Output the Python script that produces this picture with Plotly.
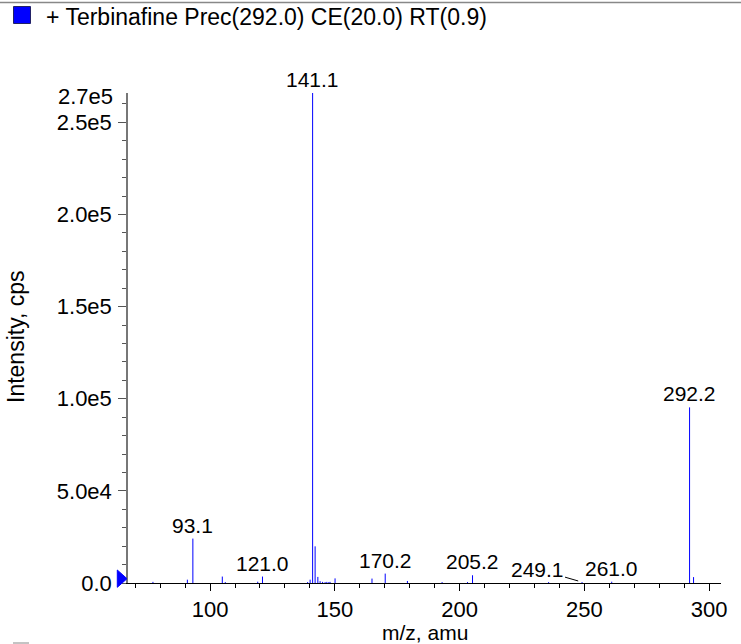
import plotly.graph_objects as go

# ---- data ----
mz = [77.1, 90.9, 93.1, 104.9, 106.1, 119.1, 121.0, 139.1, 140.1, 141.1, 142.1,
      143.2, 144.1, 145.1, 146.1, 146.8, 147.6, 148.1, 150.1, 164.9, 170.2,
      179.1, 193.0, 203.2, 205.2, 235.7, 249.1, 261.0, 292.2, 293.8]
intensity = [600, 1800, 24100, 3500, 500, 700, 3500, 500, 1800, 265900, 19900,
             3300, 1000, 600, 500, 600, 500, 600, 2500, 2400, 5100,
             1100, 500, 500, 4200, 500, 500, 700, 95300, 3200]
label_mz = [93.1, 121.0, 141.1, 170.2, 205.2, 249.1, 261.0, 292.2]
ytick_vals = [0, 50000, 100000, 150000, 200000, 250000]
ytick_text = ["0.0", "5.0e4", "1.0e5", "1.5e5", "2.0e5", "2.5e5"]
xtick_vals = [100, 150, 200, 250, 300]
title_text = "+ Terbinafine Prec(292.0) CE(20.0) RT(0.9)"
max_label = "2.7e5"

W, H = 741, 644
L, R, T, B = 128, 721, 93, 583
FONT = "Liberation Sans, Arial, Helvetica, sans-serif"
FS = 21


def pxx(x):
    return (x - L) / (R - L)


def pyy(y):
    return (B - y) / (B - T)


xs, ys = [], []
for m, v in zip(mz, intensity):
    xs += [m, m, None]
    ys += [0, v, None]

fig = go.Figure()
fig.add_trace(go.Scatter(x=xs, y=ys, mode="lines",
                         line=dict(color="#0000FF", width=1),
                         hoverinfo="skip", showlegend=False))

annotations = []
for m in label_mz:
    v = intensity[mz.index(m)]
    if m == 249.1:
        annotations.append(dict(x=m, y=v, xref="x", yref="y", text=f"{m:.1f}",
                                showarrow=True, ax=-45, ay=-13, arrowhead=0,
                                arrowwidth=1, arrowcolor="#000", standoff=4,
                                font=dict(size=FS, color="#000", family=FONT)))
    else:
        annotations.append(dict(x=m, y=v, xref="x", yref="y", text=f"{m:.1f}",
                                showarrow=False, yanchor="bottom", xanchor="center",
                                font=dict(size=FS, color="#000", family=FONT)))

# max value label at top of y axis
annotations.append(dict(x=0, y=max(intensity), xref="paper", yref="y", text=max_label,
                        showarrow=False, xanchor="right", yanchor="middle",
                        xshift=-13, yshift=-3,
                        font=dict(size=22, color="#000", family=FONT)))
# axis titles
annotations.append(dict(x=0, y=0.5, xref="paper", yref="paper", text="Intensity, cps",
                        showarrow=False, textangle=-90, xanchor="center", yanchor="middle",
                        xshift=-112, yshift=1, font=dict(size=23, color="#000", family=FONT)))
annotations.append(dict(x=0.5, y=0, xref="paper", yref="paper", text="m/z, amu",
                        showarrow=False, xanchor="center", yanchor="middle",
                        yshift=-49, font=dict(size=21, color="#000", family=FONT)))
# header title
annotations.append(dict(x=pxx(44), y=pyy(17), xref="paper", yref="paper", text=title_text,
                        showarrow=False, xanchor="left", yanchor="middle",
                        font=dict(size=23, color="#000", family=FONT)))

shapes = [
    # top separator line
    dict(type="line", xref="paper", yref="paper", x0=pxx(0), x1=pxx(W), y0=pyy(2.5), y1=pyy(2.5),
         line=dict(color="#888", width=1.5)),
    # legend square
    dict(type="rect", xref="paper", yref="paper", x0=pxx(13.5), x1=pxx(30.5), y0=pyy(6.5), y1=pyy(23.5),
         fillcolor="#0000FF", line=dict(color="#222266", width=1)),
    # stray line at bottom-left (next panel)
    dict(type="line", xref="paper", yref="paper", x0=pxx(13), x1=pxx(29), y0=pyy(643), y1=pyy(643),
         line=dict(color="#888", width=1)),
    # zero marker triangle
    dict(type="path", xref="paper", yref="paper",
         path=f"M {pxx(117.3)},{pyy(570)} L {pxx(127)},{pyy(578.7)} L {pxx(117.3)},{pyy(587.3)} Z",
         fillcolor="#0000FF", line=dict(color="#0000FF", width=1)),
]

fig.update_layout(
    width=W, height=H, autosize=False,
    margin=dict(l=L, r=W - R, t=T, b=H - B, pad=0),
    paper_bgcolor="white", plot_bgcolor="white",
    font=dict(family=FONT, size=FS, color="#000"),
    annotations=annotations, shapes=shapes,
    xaxis=dict(range=[67.1, 304.8], tickvals=xtick_vals, ticks="outside", ticklen=7,
               tickwidth=1, tickcolor="#000", showline=True, linecolor="#000", linewidth=1,
               showgrid=False, zeroline=False, tickfont=dict(size=22, family=FONT),
               minor=dict(dtick=10, tick0=0, ticks="outside", ticklen=4, tickcolor="#000",
                          showgrid=False)),
    yaxis=dict(range=[0, max(intensity)], tickvals=ytick_vals, ticktext=ytick_text,
               ticks="outside", ticklen=8, tickwidth=1, tickcolor="#555",
               showline=True, linecolor="#777", linewidth=1.5, ticklabelstandoff=2,
               showgrid=False, zeroline=False, tickfont=dict(size=22, family=FONT),
               minor=dict(dtick=10000, tick0=0, ticks="outside", ticklen=4, tickcolor="#555",
                          showgrid=False)),
)

fig.write_html("out.html", config={"displayModeBar": False},
               post_script="document.body.style.margin='0';document.body.style.padding='0';")
